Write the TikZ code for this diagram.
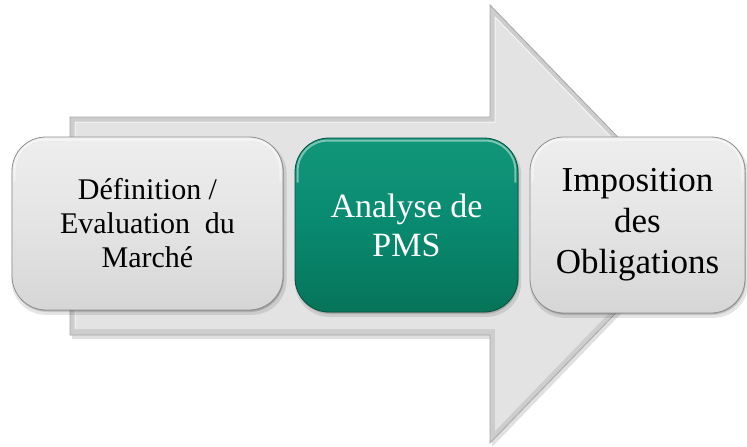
\documentclass[tikz,border=0pt]{standalone}
\usepackage{fontspec}
\setmainfont{Liberation Serif}
\usetikzlibrary{shadows}
\definecolor{arrowfill}{HTML}{E3E3E3}
\definecolor{arrowedge}{HTML}{A6A6A6}
\definecolor{arrowrim}{HTML}{CDCDCD}
\definecolor{graytop}{HTML}{EEEEEE}
\definecolor{graymid}{HTML}{E4E4E4}
\definecolor{graybot}{HTML}{D6D6D6}
\definecolor{grayedge}{HTML}{8E8E8E}
\definecolor{greentop}{HTML}{129679}
\definecolor{greenmid}{HTML}{088A70}
\definecolor{greenbot}{HTML}{067459}
\definecolor{greenedge}{HTML}{04523F}
\tikzset{
  softshadow/.style={
    general shadow={fill=black, opacity=.10, shadow xshift=1.5pt, shadow yshift=-3.5pt, shadow scale=1.015},
    general shadow={fill=black, opacity=.12, shadow xshift=1pt, shadow yshift=-2pt},
    general shadow={fill=black, opacity=.15, shadow xshift=.5pt, shadow yshift=-1pt}},
  boxbase/.style={rectangle, rounded corners=34pt, align=center, softshadow, line width=.8pt, inner sep=4pt},
  graybox/.style={boxbase, top color=graytop, bottom color=graybot, middle color=graymid, draw=grayedge, text=black},
  greenbox/.style={boxbase, top color=greentop, bottom color=greenbot, middle color=greenmid, draw=greenedge, text=white},
  highlight/.style={white, opacity=.45, line width=2pt, rounded corners=30pt},
}
\begin{document}
\begin{tikzpicture}[x=1pt,y=-1pt]
\useasboundingbox (0,0) rectangle (747,447);
% big arrow
\fill[black, opacity=.12] (72,120) -- (492,120) -- (492,8) -- (705,227) -- (492,447) -- (492,339) -- (72,339) -- cycle;
\filldraw[fill=arrowrim, draw=arrowedge, line width=.8pt]
  (70,117) -- (490,117) -- (490,5) -- (702,224) -- (490,443) -- (490,335) -- (70,335) -- cycle;
\fill[arrowfill]
  (75,122) -- (495,122) -- (495,17) -- (695,224) -- (495,431) -- (495,329) -- (75,329) -- cycle;
\draw[white, opacity=.7, line width=1pt] (75,329) -- (75,122) -- (495,122) -- (495,17) -- (695,224);
% boxes
\node[graybox, minimum width=271pt, minimum height=173pt, font=\fontsize{30}{34}\selectfont] (b1) at (147.5,223.5)
  {Définition /\\Evaluation\ \ du\\Marché};
\node[greenbox, minimum width=223pt, minimum height=174pt, font=\fontsize{34}{39}\selectfont] (b2) at (406.5,225)
  {Analyse de\\PMS};
\node[graybox, minimum width=215pt, minimum height=176pt, font=\fontsize{35}{41}\selectfont] (b3) at (637.5,225)
  {Imposition\\des\\Obligations};
% top highlights
\foreach \b in {b1,b2,b3}{
  \draw[highlight] ([xshift=3pt,yshift=-45pt]\b.north west) -- ([xshift=3pt,yshift=-3pt]\b.north west)
    -- ([xshift=-3pt,yshift=-3pt]\b.north east) -- ([xshift=-3pt,yshift=-45pt]\b.north east);
}
\end{tikzpicture}
\end{document}
